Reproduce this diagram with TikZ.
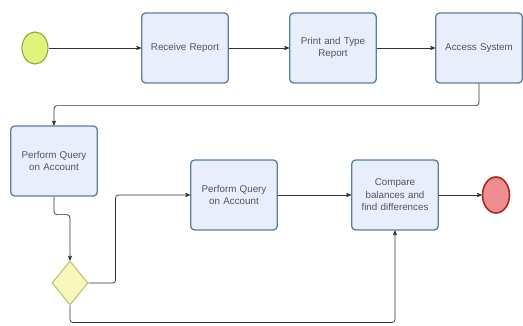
\documentclass[tikz,border=0pt]{standalone}
\usepackage{fontspec}
\setmainfont{Liberation Sans}
\usepackage{tikz}
\usetikzlibrary{arrows,positioning,shapes.geometric}
\definecolor{boxfill}{HTML}{E9EEFB}
\definecolor{boxline}{HTML}{5A7E9E}
\definecolor{startfill}{HTML}{E2F27C}
\definecolor{startline}{HTML}{8EAA3C}
\definecolor{endfill}{HTML}{EE8E8E}
\definecolor{endline}{HTML}{A02A2A}
\definecolor{gatefill}{HTML}{F8F8BC}
\definecolor{gateline}{HTML}{C2C274}
\definecolor{textgray}{HTML}{55506A}
\tikzset{
    >=stealth',
    taskbox/.style={
        rectangle,
        rounded corners=4pt,
        fill=boxfill,
        draw=boxline, line width=1.3pt,
        minimum width=85pt,
        minimum height=70pt,
        text width=80pt,
        align=center,
        text=textgray,
        font={\fontsize{9.8pt}{12.5pt}\selectfont}
    },
    flow/.style={draw, ->, line width=0.7pt, black!80, rounded corners=3pt},
}
\begin{document}
\begin{tikzpicture}
[
    x=1pt, y=-1pt,
    startevent/.style={ellipse, fill=startfill, draw=startline, line width=1.1pt,
        minimum width=26pt, minimum height=32pt, inner sep=0pt},
    endevent/.style={ellipse, fill=endfill, draw=endline, line width=1.6pt,
        minimum width=27pt, minimum height=36pt, inner sep=0pt},
    gateway/.style={diamond, fill=gatefill, draw=gateline, line width=1.1pt,
        minimum width=36pt, minimum height=44pt, inner sep=0pt},
]
\useasboundingbox (0,0) rectangle (523,326);
% top row
\node[startevent] (start) at (35,48) {};
\node[taskbox] (receive) at (185,48) {Receive Report};
\node[taskbox] (print) at (333,48) {Print and Type\\Report};
\node[taskbox] (access) at (479,48) {Access System};
% lower rows
\node[taskbox] (query1) at (54,161) {Perform Query\\on Account};
\node[gateway] (gate) at (70,283) {};
\node[taskbox] (query2) at (234,195) {Perform Query\\on Account};
\node[taskbox] (compare) at (395,195) {Compare\\balances and\\find differences};
\node[endevent] (end) at (496,195) {};
% flows
\draw[flow] (start) -- (receive);
\draw[flow] (receive) -- (print);
\draw[flow] (print) -- (access);
\draw[flow] (access.south) -- ++(0,22) -| (query1.north);
\draw[flow] (query1.south) -- ++(0,18) -| (gate.north);
\draw[flow] (gate.east) -- ++(27,0) |- (query2.west);
\draw[flow] (gate.south) -- ++(0,17) -| (compare.south);
\draw[flow] (query2) -- (compare);
\draw[flow] (compare) -- (end);
\end{tikzpicture}
\end{document}
